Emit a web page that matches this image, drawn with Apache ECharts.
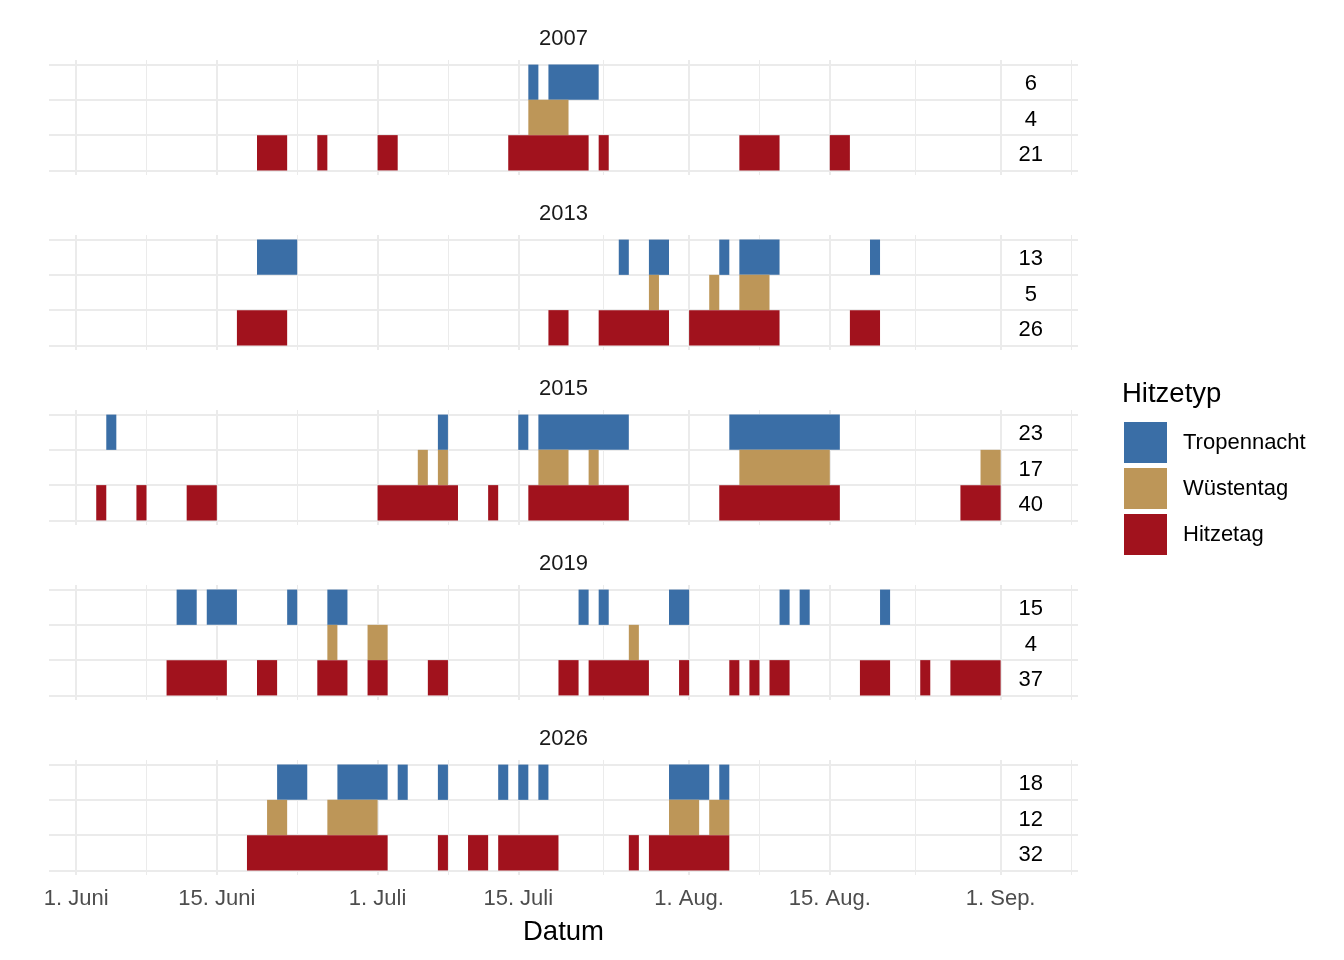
<!DOCTYPE html>
<html>
<head>
<meta charset="utf-8">
<title>Hitzetage</title>
<script src="https://cdn.jsdelivr.net/npm/echarts@6/dist/echarts.min.js"></script>
<style>
  html, body { margin: 0; padding: 0; background: #fff; }
  #chart { width: 1344px; height: 960px; }
</style>
</head>
<body>
<div id="chart"></div>
<script>
// Jahre (Facetten)
var years = ['2007', '2013', '2015', '2019', '2026'];
var typeNames = ['Tropennacht', 'Wüstentag', 'Hitzetag'];
var typeColors = ['#3A6EA6', '#BD9658', '#A1121D'];

// Tage ab 1. Juni (0 = 1. Juni), ein Eintrag pro Tag
var tropennacht = [
  [45, 47, 48, 49, 50, 51],
  [18, 19, 20, 21, 54, 57, 58, 64, 66, 67, 68, 69, 79],
  [3, 36, 44, 46, 47, 48, 49, 50, 51, 52, 53, 54, 65, 66, 67, 68, 69, 70, 71, 72, 73, 74, 75],
  [10, 11, 13, 14, 15, 21, 25, 26, 50, 52, 59, 60, 70, 72, 80],
  [20, 21, 22, 26, 27, 28, 29, 30, 32, 36, 42, 44, 46, 59, 60, 61, 62, 64]
];
var wuestentag = [
  [45, 46, 47, 48],
  [57, 63, 66, 67, 68],
  [34, 36, 46, 47, 48, 51, 66, 67, 68, 69, 70, 71, 72, 73, 74, 90, 91],
  [25, 29, 30, 55],
  [19, 20, 25, 26, 27, 28, 29, 59, 60, 61, 63, 64]
];
var hitzetag = [
  [18, 19, 20, 24, 30, 31, 43, 44, 45, 46, 47, 48, 49, 50, 52, 66, 67, 68, 69, 75, 76],
  [16, 17, 18, 19, 20, 47, 48, 52, 53, 54, 55, 56, 57, 58, 61, 62, 63, 64, 65, 66, 67, 68, 69, 77, 78, 79],
  [2, 6, 11, 12, 13, 30, 31, 32, 33, 34, 35, 36, 37, 41, 45, 46, 47, 48, 49, 50, 51, 52, 53, 54,
   64, 65, 66, 67, 68, 69, 70, 71, 72, 73, 74, 75, 88, 89, 90, 91],
  [9, 10, 11, 12, 13, 14, 18, 19, 24, 25, 26, 29, 30, 35, 36, 48, 49, 51, 52, 53, 54, 55, 56,
   60, 65, 67, 69, 70, 78, 79, 80, 84, 87, 88, 89, 90, 91],
  [17, 18, 19, 20, 21, 22, 23, 24, 25, 26, 27, 28, 29, 30, 36, 39, 40, 42, 43, 44, 45, 46, 47,
   55, 57, 58, 59, 60, 61, 62, 63, 64]
];

// Achse: Hauptmarken und Zwischenlinien (Tage ab 1. Juni)
var majorBreaks = [0, 14, 30, 44, 61, 75, 92];
var majorLabels = ['1. Juni', '15. Juni', '1. Juli', '15. Juli', '1. Aug.', '15. Aug.', '1. Sep.'];
var minorBreaks = [7, 22, 37, 52.5, 68, 83.5, 99];
var countPos = 95;

var FONT = '"Liberation Sans", Arial, Helvetica, sans-serif';
var GRID_COLOR = '#EBEBEB';
var panelTop = 60, panelStep = 175, panelHeight = 115;

var chart = echarts.init(document.getElementById('chart'));

// aufeinanderfolgende Tage zu einem Block zusammenfassen
function toRuns(days) {
  var runs = [];
  days.forEach(function (d) {
    var last = runs[runs.length - 1];
    if (last && last[1] === d) last[1] = d + 1;
    else runs.push([d, d + 1]);
  });
  return runs;
}

function tileRenderer(row) {
  return function (params, api) {
    var p0 = api.coord([api.value(0), row - 0.5]);
    var p1 = api.coord([api.value(1), row + 0.5]);
    return {
      type: 'rect',
      shape: {
        x: Math.min(p0[0], p1[0]),
        y: Math.min(p0[1], p1[1]),
        width: Math.abs(p1[0] - p0[0]),
        height: Math.abs(p1[1] - p0[1])
      },
      style: { fill: api.visual('color') }
    };
  };
}

function countRenderer(params, api) {
  var p = api.coord([api.value(0), api.value(1)]);
  return {
    type: 'text',
    x: p[0],
    y: p[1] + 2,
    style: {
      text: String(api.value(2)),
      font: '22px ' + FONT,
      fill: '#000',
      textAlign: 'center',
      textVerticalAlign: 'middle'
    }
  };
}

var grids = [], xAxes = [], yAxes = [], series = [], graphics = [];

years.forEach(function (year, i) {
  var top = panelTop + i * panelStep;
  var isLast = i === years.length - 1;
  grids.push({ left: 49, right: 266, top: top, height: panelHeight });

  xAxes.push({
    type: 'value',
    gridIndex: i,
    min: -2.7,
    max: 99.7,
    axisLine: { show: false },
    axisTick: { show: false },
    splitLine: { show: false },
    axisLabel: {
      show: isLast,
      customValues: majorBreaks,
      margin: 13,
      fontSize: 22,
      fontFamily: FONT,
      color: '#4D4D4D',
      formatter: function (v) {
        var k = majorBreaks.indexOf(v);
        return k >= 0 ? majorLabels[k] : '';
      }
    }
  });
  yAxes.push({
    type: 'value',
    gridIndex: i,
    min: 0.37,
    max: 3.63,
    inverse: true,
    show: false
  });

  // Gitternetz (unter den Kacheln)
  var lines = [];
  majorBreaks.forEach(function (v) { lines.push({ xAxis: v, lineStyle: { width: 2 } }); });
  minorBreaks.forEach(function (v) { lines.push({ xAxis: v, lineStyle: { width: 1 } }); });
  [0.5, 1.5, 2.5, 3.5].forEach(function (v) { lines.push({ yAxis: v, lineStyle: { width: 2 } }); });
  series.push({
    type: 'line',
    xAxisIndex: i,
    yAxisIndex: i,
    data: [],
    z: 0,
    silent: true,
    markLine: {
      z: 0,
      silent: true,
      animation: false,
      symbol: ['none', 'none'],
      label: { show: false },
      lineStyle: { color: GRID_COLOR, type: 'solid' },
      emphasis: { disabled: true },
      data: lines
    }
  });

  var perType = [tropennacht[i], wuestentag[i], hitzetag[i]];
  perType.forEach(function (days, t) {
    series.push({
      name: typeNames[t],
      type: 'custom',
      xAxisIndex: i,
      yAxisIndex: i,
      z: 10,
      silent: true,
      animation: false,
      itemStyle: { color: typeColors[t] },
      renderItem: tileRenderer(t + 1),
      encode: { x: [0, 1] },
      data: toRuns(days)
    });
  });

  // Anzahl pro Typ rechts
  series.push({
    type: 'custom',
    xAxisIndex: i,
    yAxisIndex: i,
    z: 11,
    silent: true,
    animation: false,
    renderItem: countRenderer,
    encode: { x: 0, y: 1 },
    data: perType.map(function (days, t) { return [countPos, t + 1, days.length]; })
  });

  graphics.push({
    type: 'text',
    x: 563.5,
    y: 39 + i * panelStep,
    style: {
      text: year,
      font: '22px ' + FONT,
      fill: '#1A1A1A',
      textAlign: 'center',
      textVerticalAlign: 'middle'
    }
  });
});

graphics.push({
  type: 'text',
  x: 563.5,
  y: 932,
  style: { text: 'Datum', font: '27.5px ' + FONT, fill: '#000', textAlign: 'center', textVerticalAlign: 'middle' }
});
graphics.push({
  type: 'text',
  x: 1122,
  y: 394,
  style: { text: 'Hitzetyp', font: '27.5px ' + FONT, fill: '#000', textAlign: 'left', textVerticalAlign: 'middle' }
});

chart.setOption({
  backgroundColor: '#fff',
  animation: false,
  grid: grids,
  xAxis: xAxes,
  yAxis: yAxes,
  legend: {
    data: typeNames,
    orient: 'vertical',
    left: 1124,
    top: 422,
    padding: 0,
    icon: 'rect',
    itemWidth: 43,
    itemHeight: 41,
    itemGap: 5,
    selectedMode: false,
    textStyle: { fontSize: 22, fontFamily: FONT, color: '#000', padding: [4, 0, 0, 11] }
  },
  graphic: graphics,
  series: series
});
</script>
</body>
</html>
